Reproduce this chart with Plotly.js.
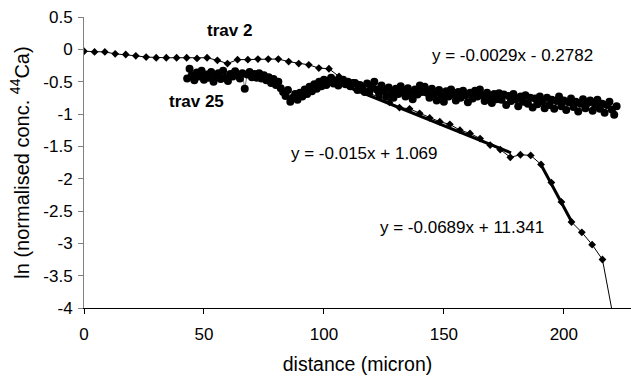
<!DOCTYPE html>
<html>
<head>
<meta charset="utf-8">
<script src="https://cdn.plot.ly/plotly-3.0.1.min.js"></script>
<style>html,body{margin:0;padding:0;background:#fff;}#chart{width:631px;height:376px;}</style>
</head>
<body>
<div id="chart"></div>
<script>
// trav 2 profile (distance in micron, ln normalised conc.)
var trav2X = [0.0,4.4,8.7,13.0,17.4,21.6,25.9,30.1,34.3,38.6,42.8,47.1,51.3,55.6,59.8,64.0,68.3,72.5,76.8,81.0,85.3,89.5,93.7,97.9,102.1,106.3,110.5,114.7,118.9,123.1,127.3,131.5,135.7,139.9,144.1,148.3,152.5,156.7,160.9,165.1,169.3,173.5,177.7,181.9,186.2,190.5,194.8,199.0,203.2,207.5,211.8,216.1,220.4];
var trav2Y = [-0.03,-0.04,-0.04,-0.07,-0.08,-0.10,-0.12,-0.13,-0.13,-0.13,-0.13,-0.14,-0.13,-0.17,-0.22,-0.16,-0.16,-0.15,-0.15,-0.15,-0.19,-0.22,-0.24,-0.29,-0.30,-0.42,-0.52,-0.60,-0.68,-0.74,-0.82,-0.90,-0.92,-0.99,-1.06,-1.12,-1.16,-1.25,-1.30,-1.38,-1.48,-1.55,-1.67,-1.63,-1.64,-1.78,-2.06,-2.36,-2.67,-2.83,-3.02,-3.25,-4.10];

// trav 25 profile
var trav25X = [43,44,45,46,47,48,49,50,51,52,53,54,55,56,57,58,59,60,61,62,63,64,65,66,67,68,69,70,71,72,73,74,75,76,77,78,79,80,81,82,83,84,85,86,87,88,89,90,91,92,93,94,95,96,97,98,99,100,101,102,103,104,105,106,107,108,109,110,111,112,113,114,115,116,117,118,119,120,121,122,123,124,125,126,127,128,129,130,131,132,133,134,135,136,137,138,139,140,141,142,143,144,145,146,147,148,149,150,151,152,153,154,155,156,157,158,159,160,161,162,163,164,165,166,167,168,169,170,171,172,173,174,175,176,177,178,179,180,181,182,183,184,185,186,187,188,189,190,191,192,193,194,195,196,197,198,199,200,201,202,203,204,205,206,207,208,209,210,211,212,213,214,215,216,217,218,219,220,221,222];
var trav25Y = [
-0.45,-0.30,-0.40,-0.48,-0.36,-0.42,-0.33,-0.47,-0.39,-0.44,
-0.35,-0.50,-0.41,-0.37,-0.46,-0.33,-0.43,-0.49,-0.38,-0.42,
-0.34,-0.40,-0.45,-0.37,-0.61,-0.39,-0.35,-0.43,-0.38,-0.44,
-0.37,-0.45,-0.40,-0.48,-0.43,-0.52,-0.46,-0.55,-0.50,-0.60,
-0.66,-0.72,-0.63,-0.81,-0.75,-0.69,-0.78,-0.67,-0.73,-0.62,
-0.69,-0.58,-0.65,-0.54,-0.61,-0.50,-0.57,-0.47,-0.55,-0.49,
-0.44,-0.53,-0.49,-0.56,-0.51,-0.47,-0.54,-0.50,-0.57,-0.52,
-0.52,-0.63,-0.55,-0.60,-0.66,-0.53,-0.64,-0.58,-0.50,-0.62,
-0.68,-0.56,-0.63,-0.73,-0.59,-0.66,-0.75,-0.61,-0.69,-0.57,
-0.64,-0.73,-0.60,-0.68,-0.77,-0.62,-0.70,-0.56,-0.66,-0.58,
-0.67,-0.75,-0.61,-0.69,-0.79,-0.63,-0.72,-0.81,-0.65,-0.73,
-0.62,-0.70,-0.79,-0.66,-0.75,-0.64,-0.71,-0.82,-0.67,-0.76,
-0.64,-0.73,-0.62,-0.71,-0.80,-0.67,-0.76,-0.83,-0.69,-0.77,
-0.68,-0.78,-0.70,-0.86,-0.72,-0.80,-0.69,-0.77,-0.88,-0.73,
-0.81,-0.71,-0.84,-0.75,-0.90,-0.76,-0.85,-0.73,-0.81,-0.91,
-0.75,-0.86,-0.78,-0.92,-0.80,-0.73,-0.88,-0.79,-0.94,-0.82,
-0.76,-0.89,-0.81,-0.96,-0.84,-0.77,-0.91,-0.83,-0.79,-0.95,
-0.85,-0.78,-0.92,-0.84,-0.98,-0.86,-0.81,-0.93,-1.01,-0.88];

// linear fits drawn on trav 2: [slope, intercept, xStart, xEnd]
var fitSlopes = [-0.015, -0.0689];
var fitIntercepts = [1.069, 11.341];
var fitStarts = [107, 190.5];
var fitEnds = [178, 203.4];
var fitLabels = ["y = -0.015x + 1.069", "y = -0.0689x + 11.341", "y = -0.0029x - 0.2782"];

var yTickVals = [0.5, 0, -0.5, -1, -1.5, -2, -2.5, -3, -3.5, -4];
var yTickText = ["0.5", "0", "-0.5", "-1", "-1.5", "-2", "-2.5", "-3", "-3.5", "-4"];
var xTickVals = [0, 50, 100, 150, 200];

var FONT = "Arial, 'Liberation Sans', sans-serif";

var traces = [];
traces.push({
  x: trav2X, y: trav2Y, type: 'scatter', mode: 'lines+markers',
  line: {color: '#000', width: 1},
  marker: {symbol: 'diamond', size: 6, color: '#000'},
  hoverinfo: 'skip'
});
for (var i = 0; i < fitSlopes.length; i++) {
  var xs = [fitStarts[i], fitEnds[i]];
  var ys = xs.map(function (v) { return fitSlopes[i] * v + fitIntercepts[i]; });
  traces.push({
    x: xs, y: ys, type: 'scatter', mode: 'lines',
    line: {color: '#000', width: 3}, hoverinfo: 'skip'
  });
}
traces.push({
  x: trav25X, y: trav25Y, type: 'scatter', mode: 'lines+markers',
  line: {color: '#808080', width: 1},
  marker: {symbol: 'circle', size: 8, color: '#000'},
  hoverinfo: 'skip'
});

var layout = {
  width: 631, height: 376,
  margin: {l: 84, r: 0, t: 17, b: 68, pad: 0},
  paper_bgcolor: '#fff', plot_bgcolor: '#fff',
  showlegend: false,
  font: {family: FONT, color: '#000', size: 17},
  xaxis: {
    range: [0, 228], tickvals: xTickVals, ticks: 'outside', ticklen: 5,
    tickcolor: '#000', showline: true, linecolor: '#000', linewidth: 1,
    showgrid: false, zeroline: false, ticklabelstandoff: 6,
    tickfont: {family: FONT, size: 17},
    title: {text: 'distance (micron)', font: {family: FONT, size: 19.5}, standoff: 13}
  },
  yaxis: {
    range: [-4, 0.5], tickvals: yTickVals, ticktext: yTickText, ticks: 'outside', ticklen: 5,
    tickcolor: '#808080', showline: true, linecolor: '#808080', linewidth: 1,
    showgrid: false, zeroline: false, ticklabelstandoff: 2,
    tickfont: {family: FONT, size: 17},
    title: {text: 'ln (normalised conc. <sup>44</sup>Ca)', font: {family: FONT, size: 20}, standoff: 8}
  },
  annotations: [
    {x: 60.8, y: 0.29, xref: 'x', yref: 'y', text: '<b>trav 2</b>', showarrow: false, font: {family: FONT, size: 17}},
    {x: 46.8, y: -0.80, xref: 'x', yref: 'y', text: '<b>trav 25</b>', showarrow: false, font: {family: FONT, size: 17}},
    {x: 178.8, y: -0.10, xref: 'x', yref: 'y', text: fitLabels[2], showarrow: false, font: {family: FONT, size: 17}},
    {x: 117, y: -1.61, xref: 'x', yref: 'y', text: fitLabels[0], showarrow: false, font: {family: FONT, size: 17}},
    {x: 157.5, y: -2.76, xref: 'x', yref: 'y', text: fitLabels[1], showarrow: false, font: {family: FONT, size: 17}}
  ]
};

Plotly.newPlot('chart', traces, layout, {staticPlot: true, displayModeBar: false});
</script>
</body>
</html>
